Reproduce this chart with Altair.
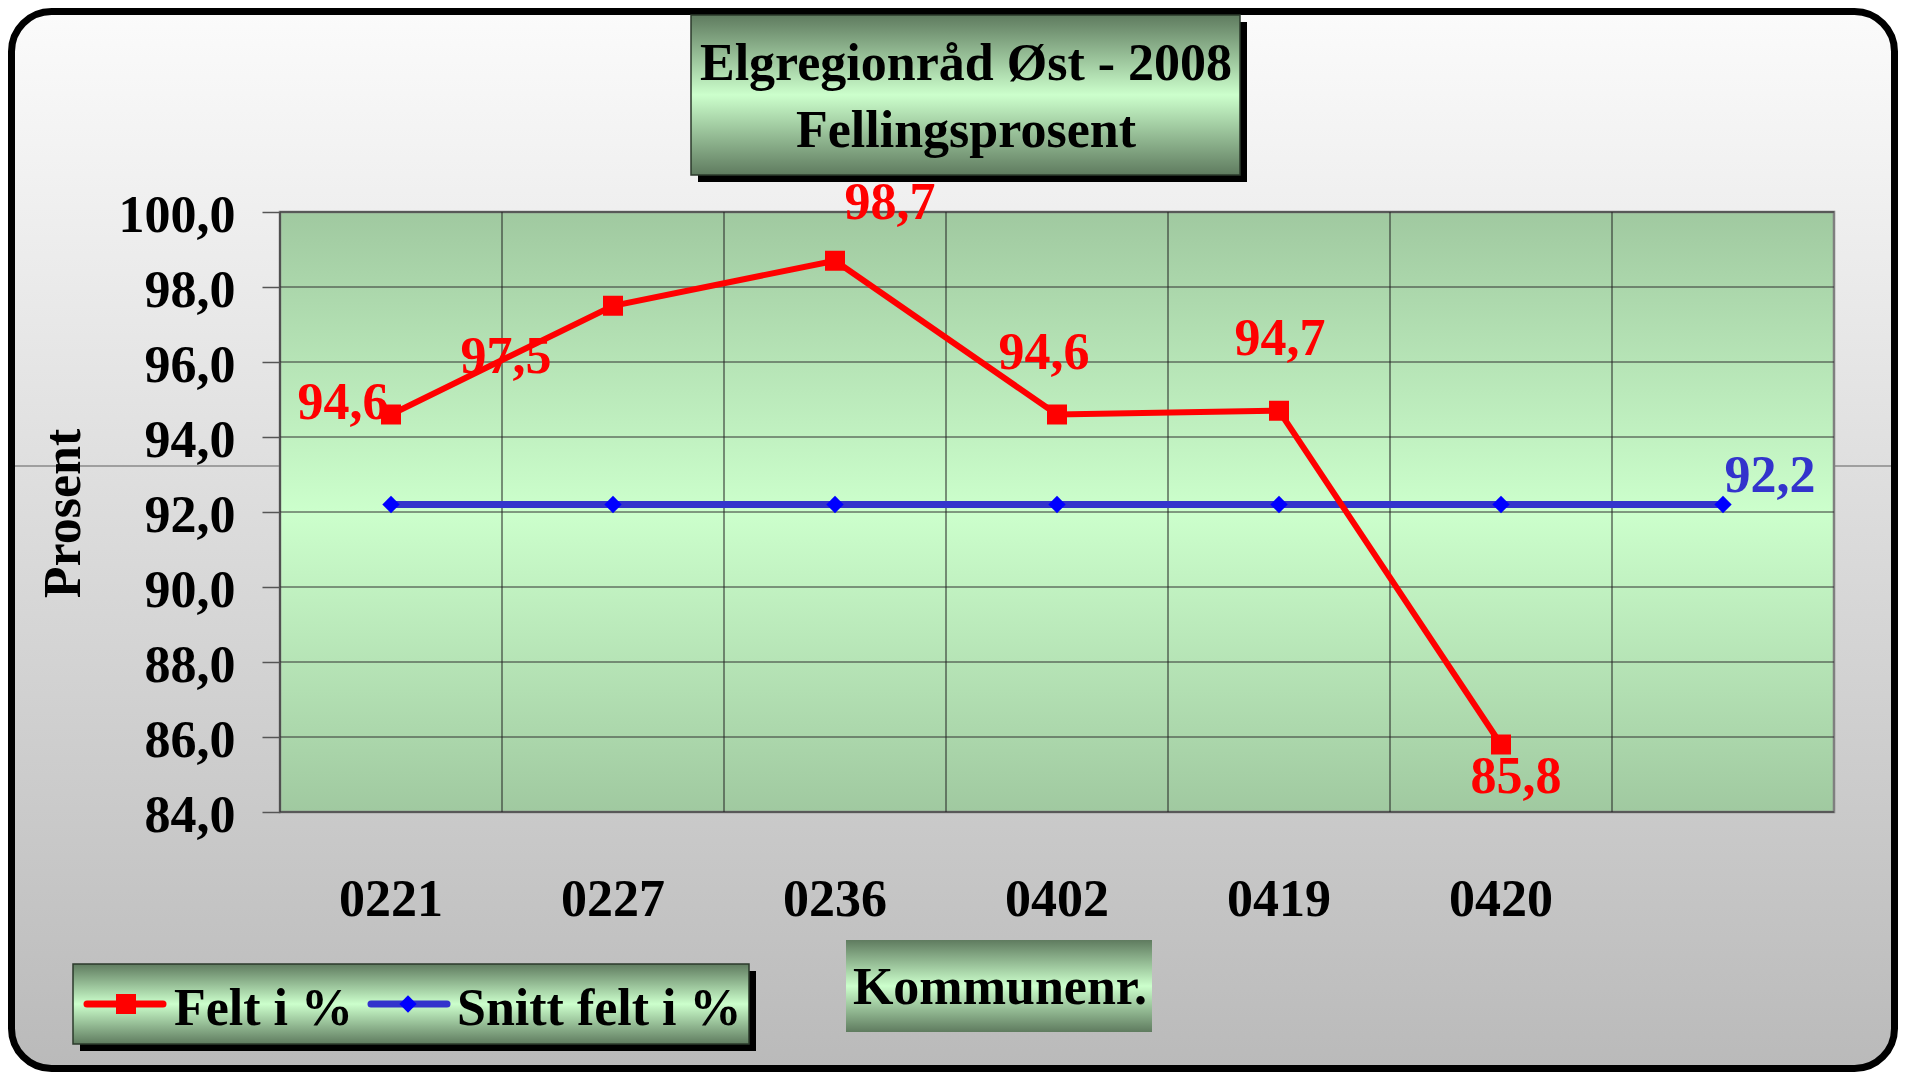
import altair as alt
import pandas as pd

# ---------------- data ----------------
kommuner = ["0221", "0227", "0236", "0402", "0419", "0420"]
felt_pct = [94.6, 97.5, 98.7, 94.6, 94.7, 85.8]
snitt_kategorier = ["0221", "0227", "0236", "0402", "0419", "0420", "\u00a0"]
snitt_pct = [92.2, 92.2, 92.2, 92.2, 92.2, 92.2, 92.2]
y_ticks = [84, 86, 88, 90, 92, 94, 96, 98, 100]
tittel_linjer = ["Elgregionråd Øst - 2008", "Fellingsprosent"]
serie_navn = ["Felt i %", "Snitt felt i %"]
x_tittel = "Kommunenr."
y_tittel = "Prosent"

# ---------------- style ----------------
W, H = 1554, 600
FONT = "Liberation Serif"
FS = 52
RED = "#ff0000"
BLUE_LINE = "#3333cc"
BLUE_MARK = "#0000ff"

felt_df = pd.DataFrame({"kommune": kommuner, "verdi": felt_pct})
felt_df["i"] = range(len(felt_df))
snitt_df = pd.DataFrame({"kommune": snitt_kategorier, "verdi": snitt_pct})
snitt_df["i"] = range(len(snitt_df))
grid_df = pd.DataFrame({"verdi": y_ticks})
cat_df = pd.DataFrame({"kommune": snitt_kategorier})

x_scale = alt.Scale(type="band", domain=snitt_kategorier, paddingInner=0, paddingOuter=0)
y_scale = alt.Scale(domain=[84, 100], nice=False, zero=False)

x_axis = alt.Axis(title=None, ticks=False, tickSize=0, domain=False, grid=False,
                  labelFont=FONT, labelFontWeight="bold", labelFontSize=FS,
                  labelColor="black", labelPadding=62, labelAngle=0, zindex=1)
y_axis = alt.Axis(title=y_tittel, values=y_ticks,
                  labelExpr="replace(format(datum.value, '.1f'), '.', ',')",
                  labelFont=FONT, labelFontWeight="bold", labelFontSize=FS,
                  labelColor="black", labelPadding=27, labelOffset=3,
                  ticks=True, tickSize=18, tickColor="#555555", tickWidth=1.5,
                  domain=False, grid=False,
                  titleFont=FONT, titleFontWeight="bold", titleFontSize=FS,
                  titleColor="black", titleAngle=270, titleX=-217, titleY=301,
                  titleAlign="center", titleBaseline="middle", zindex=1)

one = alt.Data(values=[{"a": 1}])


def grad(stops):
    return alt.Gradient(gradient="linear", x1=0, x2=0, y1=0, y2=1,
                        stops=[alt.GradientStop(offset=o, color=c) for o, c in stops])


def box(x, x2, y, y2, fill, stroke=None, sw=0, radius=0):
    kw = dict(fill=fill)
    if stroke:
        kw.update(stroke=stroke, strokeWidth=sw)
    if radius:
        kw["cornerRadius"] = radius
    return alt.Chart(one).mark_rect(**kw).encode(
        x=alt.value(x), x2=alt.value(x2), y=alt.value(y), y2=alt.value(y2))


def txt(s, x, y, size=FS, align="center", baseline="alphabetic", color="black"):
    return alt.Chart(one).mark_text(text=s, font=FONT, fontWeight="bold", fontSize=size,
                                    align=align, baseline=baseline, color=color).encode(
        x=alt.value(x), y=alt.value(y))


def seg(x, x2, y, color):
    return alt.Chart(one).mark_rule(color=color, strokeWidth=7, strokeCap="round").encode(
        x=alt.value(x), x2=alt.value(x2), y=alt.value(y))


def sym(x, y, shape, size, color):
    return alt.Chart(one).mark_point(shape=shape, size=size, filled=True, opacity=1,
                                     color=color).encode(x=alt.value(x), y=alt.value(y))


# every layer shares the very same axis definitions so they merge cleanly
def xenc(band=0.5):
    return alt.X("kommune:N", scale=x_scale, axis=x_axis, bandPosition=band)


def yenc():
    return alt.Y("verdi:Q", scale=y_scale, axis=y_axis)


box_grad = grad([(0, "#5f7b5f"), (0.5, "#ccffcc"), (1, "#5f7b5f")])
plot_grad = grad([(0, "#a0c9a0"), (0.5, "#ccffcc"), (1, "#a0c9a0")])
bg_grad = grad([(0, "#fbfbfb"), (1, "#bababa")])

layers = []
# outer rounded frame
layers.append(box(-268.5, 1614.5, -200.5, 856.5, bg_grad, stroke="black", sw=7, radius=40))
# thin gray line across the frame
layers.append(alt.Chart(one).mark_rule(color="#8a8a8a", strokeWidth=1.5).encode(
    x=alt.value(-265), x2=alt.value(1611), y=alt.value(254)))
# plot area
layers.append(box(0, W, 0, H, plot_grad, stroke="#7f7f7f", sw=2.5))
# grid lines through the scales
layers.append(alt.Chart(grid_df).mark_rule(color="#333333", strokeWidth=1).encode(
    y=yenc(), x=alt.value(0), x2=alt.value(W)))
layers.append(alt.Chart(cat_df).mark_rule(color="#222222", strokeWidth=1).encode(
    x=xenc(band=0), y=alt.value(0), y2=alt.value(H)))

# blue series
layers.append(alt.Chart(snitt_df).mark_line(color=BLUE_LINE, strokeWidth=7).encode(
    x=xenc(), y=yenc(), order="i:Q"))
layers.append(alt.Chart(snitt_df).mark_point(shape="diamond", size=300, filled=True,
                                             opacity=1, color=BLUE_MARK).encode(
    x=xenc(), y=yenc()))
# red series
layers.append(alt.Chart(felt_df).mark_line(color=RED, strokeWidth=6).encode(
    x=xenc(), y=yenc(), order="i:Q"))
layers.append(alt.Chart(felt_df).mark_point(shape="square", size=400, filled=True,
                                            opacity=1, color=RED).encode(
    x=xenc(), y=yenc()))

# data labels (offsets are label placement only)
label_offsets = {"0221": (-48, -12), "0227": (-107, 51), "0236": (55, -58),
                 "0402": (-13, -62), "0419": (1, -72), "0420": (15, 32)}
fmt = "replace(format(datum.verdi, '.1f'), '.', ',')"
for k, (dx, dy) in label_offsets.items():
    layers.append(alt.Chart(felt_df).transform_filter(alt.datum.kommune == k)
                  .transform_calculate(label=fmt)
                  .mark_text(font=FONT, fontWeight="bold", fontSize=FS, color=RED,
                             align="center", baseline="middle", dx=dx, dy=dy)
                  .encode(x=xenc(), y=yenc(), text="label:N"))
layers.append(alt.Chart(snitt_df).transform_filter(alt.datum.i == len(snitt_kategorier) - 1)
              .transform_calculate(label=fmt)
              .mark_text(font=FONT, fontWeight="bold", fontSize=FS, color=BLUE_LINE,
                         align="center", baseline="middle", dx=47, dy=-29)
              .encode(x=xenc(), y=yenc(), text="label:N"))

# title box
layers.append(box(418, 967, -190, -30, "black"))
layers.append(box(411, 960, -197, -37, box_grad, stroke="#2b3a2b", sw=1.5))
layers.append(txt(tittel_linjer[0], 686, -132))
layers.append(txt(tittel_linjer[1], 686, -65))

# legend box
layers.append(box(-200, 476, 759, 839, "black"))
layers.append(box(-207, 469, 752, 832, box_grad, stroke="#2b3a2b", sw=1.5))
layers.append(seg(-193, -117, 792, RED))
layers.append(sym(-154, 792, "square", 400, RED))
layers.append(txt(serie_navn[0], -106, 813, align="left"))
layers.append(seg(91, 167, 792, BLUE_LINE))
layers.append(sym(128, 792, "diamond", 300, BLUE_MARK))
layers.append(txt(serie_navn[1], 177, 813, align="left"))

# x title box
layers.append(box(566, 872, 728, 820, box_grad))
layers.append(txt(x_tittel, 720, 792))

chart = alt.layer(*layers).properties(
    width=W, height=H,
    autosize=alt.AutoSizeParams(type="none"),
    padding={"left": 272, "top": 204, "right": 64, "bottom": 260},
).configure(background="white").configure_view(stroke=None)

chart.save("out.html", embed_options={"renderer": "svg", "actions": False})
